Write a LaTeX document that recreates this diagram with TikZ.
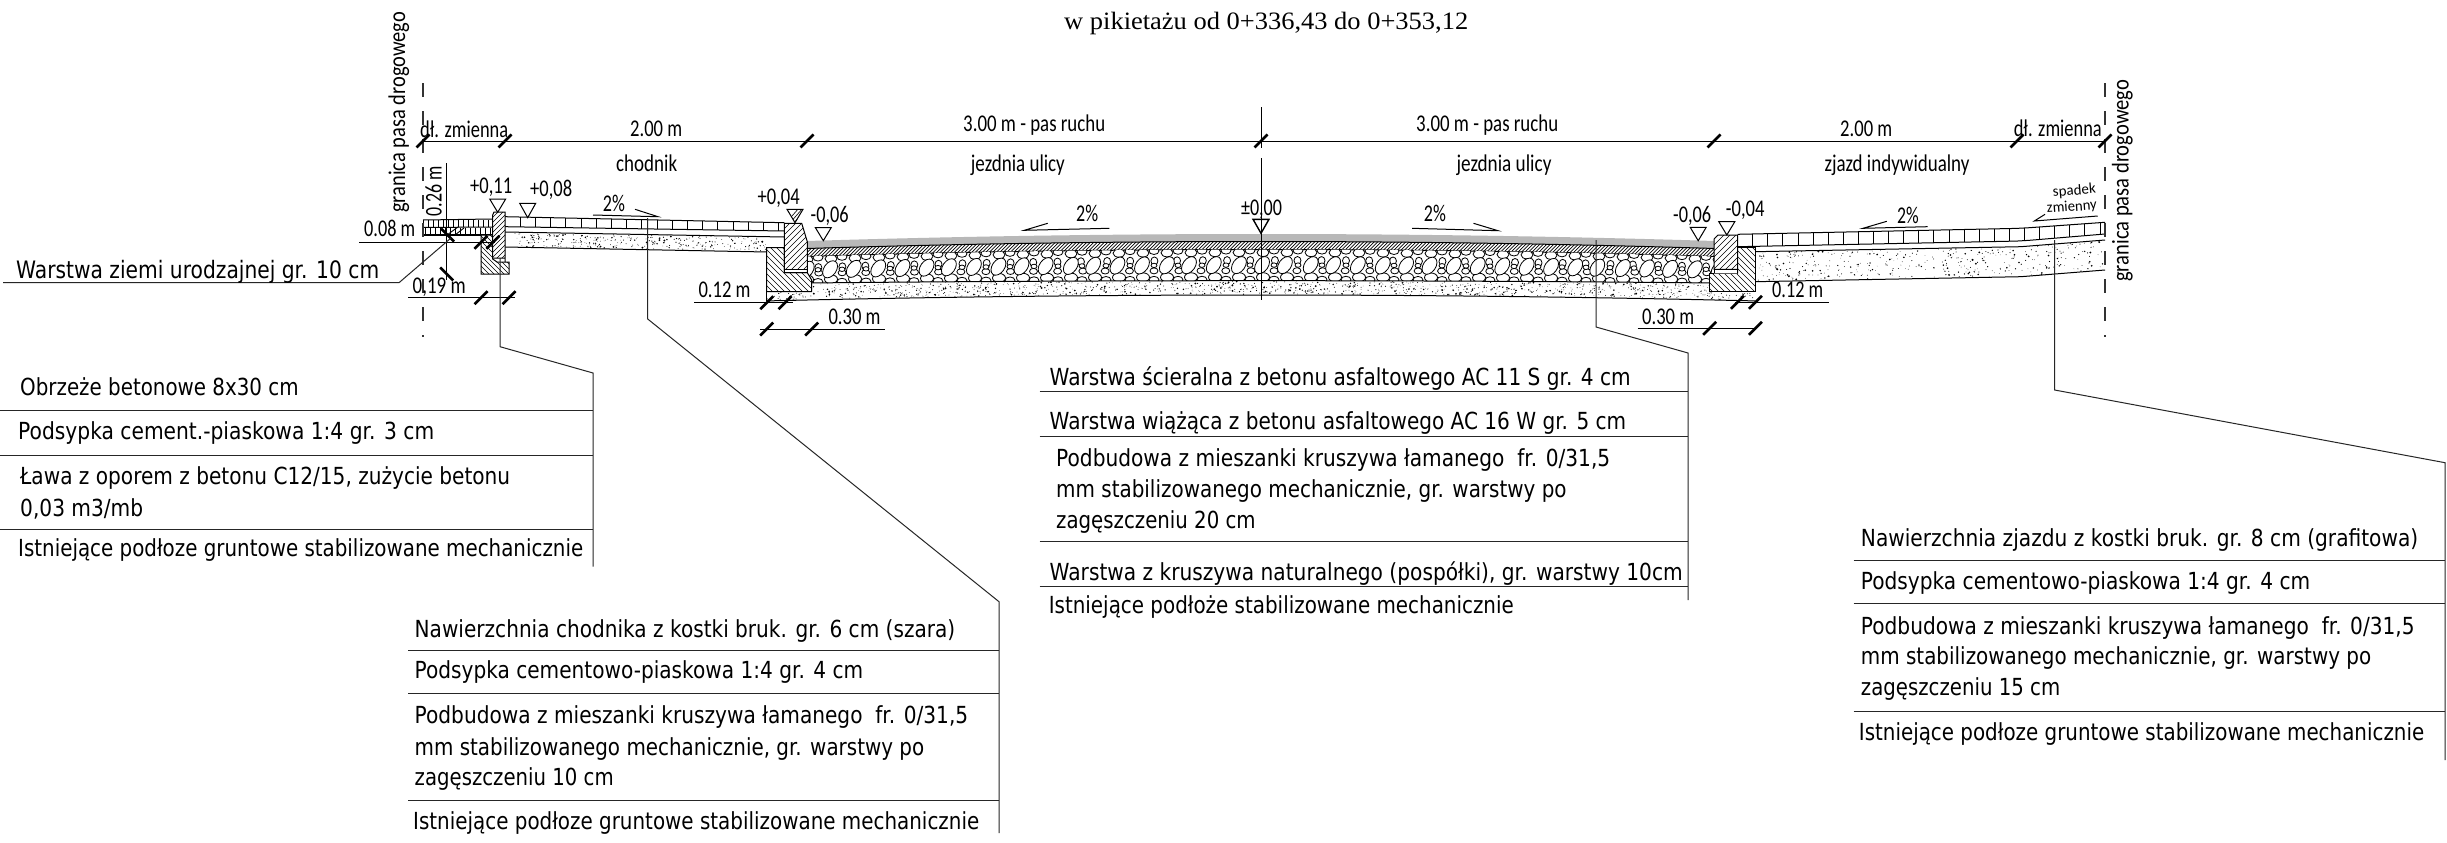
\documentclass[tikz,border=0pt]{standalone}
\usepackage{fontspec}
\usepackage{graphicx}
\setmainfont{Liberation Serif}
\newfontfamily\tabfont{DejaVu Sans}
\newfontfamily\labfont{Carlito}
\newcommand{\fw}[2]{\resizebox{#1pt}{\height}{#2}}
% name, x, baseline y, width, text
\newcommand{\tb}[5]{\node[tabtxt] (#1) at (#2,#3) {\fw{#4}{#5}};}
\newcommand{\lb}[5]{\node[labtxt] (#1) at (#2,#3) {\fw{#4}{#5}};}
\newcommand{\ticku}[2]{\draw[tick] (#1-6.5,#2+6.5) -- (#1+6.5,#2-6.5);}
\newcommand{\tickd}[2]{\draw[tick] (#1-6.5,#2-6.5) -- (#1+6.5,#2+6.5);}
\newcommand{\lvl}[3]{\draw[thinl,fill=white] (#1,#2) -- (#1-8,#3) -- (#1+8,#3) -- cycle;}
% x0,x1,top fn,bottom fn,count
\newcommand{\sanddots}[5]{%
 \foreach \ii in {1,...,#5}{%
  \pgfmathsetmacro\px{#1+rnd*(#2-#1)}%
  \pgfmathsetmacro\py{#3(\px)+0.8+rnd*(#4(\px)-#3(\px)-1.6)}%
  \pgfmathsetmacro\pr{0.3+0.8*rnd*rnd}%
  \fill[black] (\px,\py) circle[radius=\pr pt];%
 }}
\tikzset{
 tabtxt/.style={inner sep=0pt,anchor=base west,font=\tabfont\fontsize{23.5}{27}\selectfont},
 labtxt/.style={inner sep=0pt,anchor=base west,font=\labfont\fontsize{24}{28}\selectfont},
 thinl/.style={line width=1pt,draw=black},
 rule/.style={line width=1pt,draw=black!85},
 leader/.style={line width=1pt,draw=black!85},
 tick/.style={line width=2.6pt,draw=black},
 hatchl/.style={line width=0.6pt,draw=black},
 border/.style={line width=1.2pt,draw=black!80,dash pattern=on 14pt off 14pt},
 stone/.style={line width=0.8pt,draw=black,fill=white},
 asphalt/.style={fill=black!28,draw=none}
}
\begin{document}
\begin{tikzpicture}[x=1pt,y=-1pt,
 declare function={
  rt(\x)=(\x-1261)/454;
  rtop(\x)=234+7*rt(\x)*rt(\x);
  rgray(\x)=rtop(\x)+7.5;
  rhat(\x)=rtop(\x)+15.5;
  rsto(\x)=280.7+2.3*rt(\x)*rt(\x);
  rsan(\x)=295+5*rt(\x)*rt(\x);
  swT(\x)=216.7+(\x-505)*6/279;
  swP(\x)=226.7+(\x-505)*4.3/279;
  swS(\x)=232+(\x-505)*5/279;
  swB(\x)=247+(\x-505)*5/262;
  dwT(\x)=234.3-(\x-1737.5)*6/283.5-max(0,\x-2021)*(6/84-6/283.5);
  dwP(\x)=246.7-(\x-1737.5)*5.7/283.5-max(0,\x-2021)*(7/84-5.7/283.5);
  dwS(\x)=251.7-(\x-1755)*5/266-max(0,\x-2021)*(6.7/84-5/266);
  dwB(\x)=281.7-(\x-1755)*5/266-max(0,\x-2021)*(6.7/84-5/266);
 }]
\useasboundingbox (0,0) rectangle (2447,843);
\fill[white] (0,0) rectangle (2447,843);
\pgfmathsetseed{4242}

% ---------- title
\node[inner sep=0pt,anchor=base west,font=\fontsize{25}{30}\selectfont] (title) at (1064,30) {\fw{404}{w pikietażu od 0+336,43 do 0+353,12}};

% ---------- road pavement
\fill[asphalt] plot[domain=800:1720,samples=40] (\x,{rtop(\x)}) -- plot[domain=1720:800,samples=40] (\x,{rgray(\x)}) -- cycle;
\begin{scope}
 \clip plot[domain=800:1720,samples=40] (\x,{rgray(\x)}) -- plot[domain=1720:800,samples=40] (\x,{rhat(\x)}) -- cycle;
 \foreach \hx in {780,783.5,...,1720}{\draw[line width=0.7pt] (\hx,262) -- (\hx+32,230);}
\end{scope}
\draw[thinl] plot[domain=800:1720,samples=40] (\x,{rgray(\x)});
\draw[thinl] plot[domain=800:1720,samples=40] (\x,{rhat(\x)});
\begin{scope}
 \clip plot[domain=800:1720,samples=40] (\x,{rhat(\x)}) -- plot[domain=1720:800,samples=40] (\x,{rsto(\x)}) -- cycle;
 \foreach \ii in {0,...,38}{
  \pgfmathsetmacro\sx{806+24*\ii}
  \pgfmathsetmacro\st{rhat(\sx)}
  \pgfmathsetmacro\sb{rsto(\sx)}
  \pgfmathsetmacro\sm{(\st+\sb)/2}
  \pgfmathsetmacro\ja{rand*1.2}
  \pgfmathsetmacro\jb{rand*1.2}
  \draw[stone] (\sx+12,\st+1) ellipse[x radius=5pt,y radius=3.5pt];
  \draw[stone] (\sx+12,\sb-1) ellipse[x radius=5pt,y radius=3.5pt];
  \draw[stone] (\sx+12+\ja,\st+11) ellipse[x radius=3.5pt,y radius=4pt];
  \draw[stone] (\sx+12+\jb,\sb-10) ellipse[x radius=4pt,y radius=3pt];
  \draw[stone] (\sx+1,\st+3) ellipse[x radius=6pt,y radius=4pt];
  \draw[stone] (\sx+1,\sb-3.5) ellipse[x radius=6.5pt,y radius=4.5pt];
  \draw[stone] (\sx+\jb,\sm) ellipse[x radius=9.5pt,y radius=6.2pt,rotate=55];
  \draw[stone] (\sx+12,\sm) ellipse[x radius=3pt,y radius=2.2pt];
 }
\end{scope}
\draw[thinl] plot[domain=800:1720,samples=40] (\x,{rsto(\x)});
\draw[thinl] plot[domain=766.7:1755.4,samples=40] (\x,{rsan(\x)});
\sanddots{811}{1712}{rsto}{rsan}{1150}
\foreach \ii in {1,...,30}{\pgfmathsetmacro\px{767+rnd*44}\pgfmathsetmacro\py{292.5+rnd*7}\fill (\px,\py) circle[radius=0.5pt];}
\foreach \ii in {1,...,30}{\pgfmathsetmacro\px{1709+rnd*46}\pgfmathsetmacro\py{292.5+rnd*7}\fill (\px,\py) circle[radius=0.5pt];}
\draw[thinl] (766.7,291.7) -- (766.7,301);

% ---------- left road curb + foundation
\begin{scope}
 \clip (766.7,247.7) -- (784.3,247.7) -- (784.3,272.7) -- (807.3,272.7) -- (811.7,280) -- (811.7,291.7) -- (766.7,291.7) -- cycle;
 \fill[white] (760,240) rectangle (815,295);
 \foreach \hx in {710,716,...,815}{\draw[hatchl] (\hx,247) -- (\hx+46,293);}
\end{scope}
\draw[thinl] (766.7,247.7) -- (784.3,247.7) -- (784.3,272.7) -- (807.3,272.7) -- (811.7,280) -- (811.7,291.7) -- (766.7,291.7) -- cycle;
\fill[white] (784.3,223.3) -- (801.7,223.3) -- (807.3,241.7) -- (807.3,272.7) -- (784.3,272.7) -- cycle;
\begin{scope}
 \clip (784.3,223.3) -- (801.7,223.3) -- (807.3,241.7) -- (807.3,269.5) -- (784.3,269.5) -- cycle;
 \foreach \hx in {735,741,...,810}{\draw[hatchl] (\hx,272) -- (\hx+50,222);}
\end{scope}
\draw[thinl] (784.3,223.3) -- (801.7,223.3) -- (807.3,241.7) -- (807.3,272.7) -- (784.3,272.7) -- cycle;
\draw[thinl] (784.3,269.5) -- (807.3,269.5);

% ---------- sidewalk
\draw[thinl] plot[domain=505:784.3,samples=2] (\x,{swT(\x)});
\draw[thinl] plot[domain=505:784.3,samples=2] (\x,{swP(\x)});
\draw[thinl] plot[domain=505:784.3,samples=2] (\x,{swS(\x)});
\draw[thinl] plot[domain=505:767,samples=2] (\x,{swB(\x)});
\foreach \ii in {1,...,18}{
 \pgfmathsetmacro\sx{505+15.2*\ii}
 \draw[line width=0.8pt] (\sx,{swT(\sx)}) -- (\sx,{swP(\sx)});
}
\sanddots{515}{766}{swS}{swB}{300}

% ---------- soil, left strip
\begin{scope}
 \clip (423,219) rectangle (492.7,235.5);
 \foreach \ii in {0,...,14}{
  \pgfmathsetmacro\sx{423+5*\ii}
  \draw[line width=0.8pt] (\sx,220) -- (\sx,227);
  \draw[line width=0.8pt] (\sx+2.5,228) -- (\sx+2.5,235);
 }
\end{scope}
\draw[thinl] (423,220) -- (492.7,219);
\draw[thinl] (423,227.5) -- (492.7,227);
\draw[line width=1.4pt] (423,235) -- (492.7,235);
\draw[line width=0.9pt] (447,235) -- (458,227) (455,235) -- (464,228);

% ---------- small curb + foundation
\begin{scope}
 \clip (481,235) -- (492.7,235) -- (492.7,259) -- (497,262) -- (509,262) -- (509,274) -- (481,274) -- cycle;
 \fill[white] (475,230) rectangle (515,280);
 \foreach \hx in {440,445,...,510}{\draw[hatchl] (\hx,235) -- (\hx+40,275);}
\end{scope}
\draw[thinl] (481,235) -- (492.7,235) -- (492.7,259) -- (497,262) -- (509,262) -- (509,274) -- (481,274) -- cycle;
\fill[white] (494,212) -- (505,212) -- (505,258) -- (492.7,258) -- (492.7,215) -- cycle;
\begin{scope}
 \clip (494,212) -- (505,212) -- (505,258) -- (492.7,258) -- (492.7,215) -- cycle;
 \foreach \hx in {450,455,...,510}{\draw[hatchl] (\hx,260) -- (\hx+50,210);}
\end{scope}
\draw[thinl] (492.7,215) -- (494,212) -- (505,212) -- (505,262) (505,258) -- (492.7,258) -- (492.7,215);

% ---------- right road curb + foundation
\begin{scope}
 \clip (1737.5,247.3) -- (1755.4,247.3) -- (1755.4,291.7) -- (1709,291.7) -- (1709,273.3) -- (1737.5,273.3) -- cycle;
 \fill[white] (1700,240) rectangle (1760,295);
 \foreach \hx in {1660,1666,...,1760}{\draw[hatchl] (\hx,245) -- (\hx+50,295);}
\end{scope}
\draw[thinl] (1737.5,247.3) -- (1755.4,247.3) -- (1755.4,291.7) -- (1709,291.7) -- (1709,273.3) -- (1737.5,273.3) -- cycle;
\fill[white] (1718,235) -- (1737.5,235) -- (1737.5,273.3) -- (1714,273.3) -- (1714,239) -- cycle;
\begin{scope}
 \clip (1718,235) -- (1737.5,235) -- (1737.5,269.3) -- (1714,269.3) -- (1714,239) -- cycle;
 \foreach \hx in {1675,1681,...,1740}{\draw[hatchl] (\hx,272) -- (\hx+40,232);}
\end{scope}
\draw[thinl] (1714,239) -- (1718,235) -- (1737.5,235) -- (1737.5,273.3) (1737.5,269.3) -- (1714,269.3) -- (1714,239);
\draw[thinl] (1714,269.3) -- (1714,273.3);

% ---------- driveway
\draw[thinl] plot[domain=1737.5:2105,samples=30] (\x,{dwT(\x)});
\draw[thinl] plot[domain=1737.5:2105,samples=30] (\x,{dwP(\x)});
\draw[thinl] plot[domain=1755.4:2105,samples=30] (\x,{dwS(\x)});
\draw[thinl] plot[domain=1755.4:2105,samples=30] (\x,{dwB(\x)});
\foreach \ii in {1,...,24}{
 \pgfmathsetmacro\sx{1737.5+15.1*\ii}
 \draw[line width=0.8pt] (\sx,{dwT(\sx)}) -- (\sx,{dwP(\sx)});
}
\sanddots{1758}{2104}{dwS}{dwB}{400}

% ---------- property boundaries, centre line
\draw[border] (423,83) -- (423,337);
\draw[border] (2105,83) -- (2105,337);
\draw[line width=1pt] (1261,107) -- (1261,148) (1261,158) -- (1261,300);

% ---------- top dimension line
\draw[thinl] (423,141) -- (2105,141);
\foreach \tx in {423,505,807,1261,1714,2017,2105}{\ticku{\tx}{141}}
\lb{dzA}{420}{137}{88}{dł. zmienna}
\lb{dwA}{630}{136.7}{52}{2.00 m}
\lb{chod}{616}{171.7}{61}{chodnik}
\lb{pasA}{963}{131.7}{142}{3.00 m - pas ruchu}
\lb{jezA}{970.7}{171.7}{94}{jezdnia ulicy}
\lb{pasB}{1416}{131.7}{142}{3.00 m - pas ruchu}
\lb{jezB}{1456.3}{171.7}{95}{jezdnia ulicy}
\lb{dwB}{1840}{136.7}{52}{2.00 m}
\lb{zjaz}{1824.3}{171.7}{145}{zjazd indywidualny}
\lb{dzB}{2013.6}{136.7}{88}{dł. zmienna}

% ---------- rotated labels
\node[labtxt,rotate=90] (gpA) at (405,213) {\fw{201}{granica pasa drogowego}};
\node[labtxt,rotate=90] (gpB) at (2128.6,282) {\fw{202}{granica pasa drogowego}};
\node[labtxt,rotate=90] (dim26) at (441.7,216.7) {\fw{50}{0.26 m}};

% ---------- small dimensions, left
\draw[thinl] (359,242.3) -- (495,242.3);
\ticku{481}{242.3}\ticku{493}{242.3}
\lb{dim08}{364}{236.7}{51}{0.08 m}
\draw[thinl] (446.7,163) -- (446.7,280);
\tickd{447.5}{235}\tickd{446.7}{274}
\draw[thinl] (408,297.7) -- (515,297.7);
\ticku{481}{297.7}\ticku{509}{297.7}
\lb{dim19}{412.5}{293}{53}{0,19 m}
\draw[thinl] (694,302.7) -- (792.7,302.7);
\ticku{766.7}{302.7}\ticku{785}{302.7}
\lb{dim12A}{698.3}{297.7}{52}{0.12 m}
\draw[thinl] (760,329) -- (885,329);
\ticku{766.7}{329}\ticku{811.7}{329}
\lb{dim30A}{828.3}{324}{52}{0.30 m}

% ---------- small dimensions, right
\draw[thinl] (1735,302.3) -- (1828.6,302.3);
\ticku{1737.5}{302.3}\ticku{1755.4}{302.3}
\lb{dim12B}{1772}{297.3}{51}{0.12 m}
\draw[thinl] (1637.5,328.3) -- (1755.4,328.3);
\ticku{1709.6}{328.3}\ticku{1755.4}{328.3}
\lb{dim30B}{1642}{324}{52}{0.30 m}

% ---------- level marks
\lvl{497.7}{212.3}{199}
\lvl{527.7}{217.7}{203.3}
\lvl{795}{222.7}{209.3}
\begin{scope}
 \clip (795,222.7) -- (787,209.3) -- (803,209.3) -- cycle;
 \foreach \hx in {785,789,...,805}{\draw[hatchl] (\hx,224) -- (\hx+14,208);}
\end{scope}
\lvl{823.3}{240.7}{227.5}
\draw[line width=1.4pt] (1261,233.3) -- (1253,219.3) -- (1269,219.3) -- cycle;
\lvl{1698.2}{240.7}{227.3}
\lvl{1726.8}{235}{221.7}
\lb{lvA}{470}{193.3}{42}{+0,11}
\lb{lvB}{530}{196}{42}{+0,08}
\lb{lvC}{757.5}{204}{42}{+0,04}
\lb{lvD}{810.5}{222.3}{38}{-0,06}
\lb{lvE}{1240.8}{215.7}{41}{±0,00}
\lb{lvF}{1673}{222.3}{38}{-0,06}
\lb{lvG}{1725.7}{216.7}{38.6}{-0,04}

% ---------- slopes
\lb{slA}{602.7}{211.7}{22}{2\%}
\draw[thinl] (593,215) -- (658,216.7) -- (635,209.3);
\lb{slB}{1076}{221}{22}{2\%}
\draw[thinl] (1047.7,223.3) -- (1024.3,230.3) -- (1109.3,228.3);
\lb{slC}{1423.7}{221}{22}{2\%}
\draw[thinl] (1412,228.3) -- (1498,230.7) -- (1473.5,223.3);
\lb{slD}{1897}{223.3}{21.6}{2\%}
\draw[thinl] (1886.8,221.3) -- (1863,228.3) -- (1927.5,226.7);
\node[inner sep=0pt,anchor=base west,rotate=5,font=\labfont\fontsize{15}{18}\selectfont] (spa) at (2053,197) {\fw{43}{spadek}};
\node[inner sep=0pt,anchor=base west,rotate=4,font=\labfont\fontsize{15}{18}\selectfont] (zmi) at (2047,213) {\fw{50}{zmienny}};
\draw[thinl] (2045,214.3) -- (2034.3,221) -- (2097.7,216);

% ---------- table 0: topsoil
\coordinate (lsA) at (3,282.7);
\coordinate (lsB) at (399,282.7);
\coordinate (lsC) at (451,238);
\draw[leader] (lsA) -- (lsB) -- (lsC);
\node[tabtxt,font=\tabfont\fontsize{24}{28}\selectfont] (topsoil) at (16,278.3) {\fw{363}{Warstwa ziemi urodzajnej gr. 10 cm}};

% ---------- table 1
\coordinate (l1A) at (500,258);
\coordinate (l1B) at (500,346.7);
\coordinate (l1C) at (593,373);
\coordinate (l1D) at (593,566.7);
\draw[leader] (l1A) -- (l1B) -- (l1C) -- (l1D);
\foreach \ly in {410.3,455,529.3}{\draw[rule] (0,\ly) -- (593,\ly);}
\tb{aA}{20}{395.7}{278.5}{Obrzeże betonowe 8x30 cm}
\tb{aB}{18}{439}{416}{Podsypka cement.-piaskowa 1:4 gr. 3 cm}
\tb{aC}{20}{484}{490}{Ława z oporem z betonu C12/15, zużycie betonu}
\tb{aD}{20}{516.7}{123}{0,03 m3/mb}
\tb{aE}{18}{556}{565}{Istniejące podłoze gruntowe stabilizowane mechanicznie}

% ---------- table 2
\coordinate (l2A) at (647.7,218);
\coordinate (l2B) at (647.7,319);
\coordinate (l2C) at (999,601.7);
\coordinate (l2D) at (999,833);
\draw[leader] (l2A) -- (l2B) -- (l2C) -- (l2D);
\foreach \ly in {650,693,800.7}{\draw[rule] (408,\ly) -- (999,\ly);}
\tb{bA}{414.5}{637}{540.5}{Nawierzchnia chodnika z kostki bruk. gr. 6 cm (szara)}
\tb{bB}{414.5}{678}{448.5}{Podsypka cementowo-piaskowa 1:4 gr. 4 cm}
\tb{bC}{414.5}{723}{553.5}{Podbudowa z mieszanki kruszywa łamanego\ \ fr. 0/31,5}
\tb{bD}{414.5}{755}{509.5}{mm stabilizowanego mechanicznie, gr. warstwy po}
\tb{bE}{414.5}{785}{199}{zagęszczeniu 10 cm}
\tb{bF}{413}{829}{566}{Istniejące podłoze gruntowe stabilizowane mechanicznie}

% ---------- table 3
\coordinate (l3A) at (1596,240);
\coordinate (l3B) at (1596,327);
\coordinate (l3C) at (1688,353);
\coordinate (l3D) at (1688,600);
\draw[leader] (l3A) -- (l3B) -- (l3C) -- (l3D);
\foreach \ly in {391.7,436,541.7,586}{\draw[rule] (1039.5,\ly) -- (1688,\ly);}
\tb{cA}{1049.5}{385.7}{581}{Warstwa ścieralna z betonu asfaltowego AC 11 S gr. 4 cm}
\tb{cB}{1049.5}{429}{576.5}{Warstwa wiążąca z betonu asfaltowego AC 16 W gr. 5 cm}
\tb{cC}{1056}{466.7}{554}{Podbudowa z mieszanki kruszywa łamanego\ \ fr. 0/31,5}
\tb{cD}{1056}{497.3}{510.4}{mm stabilizowanego mechanicznie, gr. warstwy po}
\tb{cE}{1056}{528.3}{199.5}{zagęszczeniu 20 cm}
\tb{cF}{1049.5}{580.7}{633}{Warstwa z kruszywa naturalnego (pospółki), gr. warstwy 10cm}
\tb{cG}{1048.6}{613.3}{465}{Istniejące podłoże stabilizowane mechanicznie}

% ---------- table 4
\coordinate (l4A) at (2054.6,240);
\coordinate (l4B) at (2054.6,390);
\coordinate (l4C) at (2445,462.7);
\coordinate (l4D) at (2445,760);
\draw[leader] (l4A) -- (l4B) -- (l4C) -- (l4D);
\foreach \ly in {560.3,603.3,711}{\draw[rule] (1853.6,\ly) -- (2445,\ly);}
\tb{dA}{1860.7}{546.7}{557.3}{Nawierzchnia zjazdu z kostki bruk. gr. 8 cm (grafitowa)}
\tb{dB}{1860.7}{589}{449.3}{Podsypka cementowo-piaskowa 1:4 gr. 4 cm}
\tb{dC}{1860.7}{634.3}{553.7}{Podbudowa z mieszanki kruszywa łamanego\ \ fr. 0/31,5}
\tb{dD}{1860.7}{664.3}{510.3}{mm stabilizowanego mechanicznie, gr. warstwy po}
\tb{dE}{1860.7}{695.7}{199.3}{zagęszczeniu 15 cm}
\tb{dF}{1858.7}{740}{565.3}{Istniejące podłoze gruntowe stabilizowane mechanicznie}
\end{tikzpicture}
\end{document}
